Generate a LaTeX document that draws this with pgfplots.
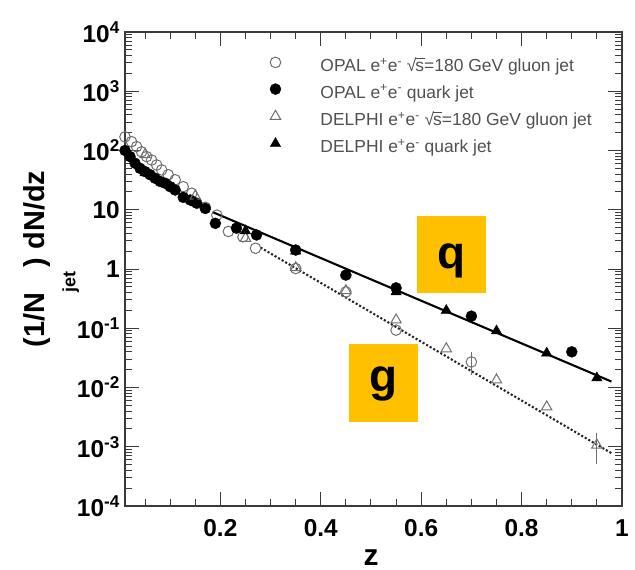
\documentclass[border=0pt]{standalone}
\usepackage{pgfplots}
\pgfplotsset{compat=1.18}
\usepackage{fontspec}
\setmainfont{Liberation Sans}

\definecolor{framegray}{HTML}{3A3A3A}
\definecolor{opengray}{HTML}{6E6E6E}
\definecolor{legtext}{HTML}{505050}
\definecolor{boxgold}{HTML}{FFC000}

% sqrt(s) with a bar over the s
\newcommand\rts{\mbox{√\kern-0.06em\rlap{\rule[0.70em]{0.52em}{0.06em}}s}}
\newcommand\epem{e\textsuperscript{+}e\textsuperscript{-}}

\begin{document}
\begin{tikzpicture}
\useasboundingbox (-125bp,-64bp) rectangle (510bp,506bp);
\begin{axis}[
  at={(0,0)}, anchor=south west,
  scale only axis, width=497bp, height=474bp,
  ymode=log,
  xmin=0.01, xmax=1, ymin=1e-4, ymax=1e4,
  axis line style={framegray, line width=1.3pt},
  xtick={0.2,0.4,0.6,0.8,1},
  xticklabels={0.2,0.4,0.6,0.8,1},
  minor xtick={0.05,0.1,0.15,0.25,0.3,0.35,0.45,0.5,0.55,0.65,0.7,0.75,0.85,0.9,0.95},
  ytick={1e-4,1e-3,1e-2,1e-1,1,10,100,1000,10000},
  yticklabels={10\textsuperscript{-4},10\textsuperscript{-3},10\textsuperscript{-2},10\textsuperscript{-1},1,10,10\textsuperscript{2},10\textsuperscript{3},10\textsuperscript{4}},
  minor ytick={2e-4,3e-4,4e-4,5e-4,6e-4,7e-4,8e-4,9e-4,
               2e-3,3e-3,4e-3,5e-3,6e-3,7e-3,8e-3,9e-3,
               2e-2,3e-2,4e-2,5e-2,6e-2,7e-2,8e-2,9e-2,
               0.2,0.3,0.4,0.5,0.6,0.7,0.8,0.9,
               2,3,4,5,6,7,8,9,
               20,30,40,50,60,70,80,90,
               200,300,400,500,600,700,800,900,
               2000,3000,4000,5000,6000,7000,8000,9000},
  tick align=inside,
  major tick length=14bp, minor tick length=7bp,
  every tick/.style={framegray, line width=1pt},
  tick label style={font=\fontsize{24.5}{24.5}\selectfont\bfseries, text=black},
  yticklabel style={inner sep=5bp},
  xticklabel style={yshift=-10bp},
  xlabel={z},
  xlabel style={at={(axis description cs:0.495,-0.1245)}, anchor=base,
    font=\fontsize{30}{30}\selectfont\bfseries},
  ylabel={(1/N\raisebox{-1.05em}{\fontsize{18}{18}\selectfont jet}\,) dN/dz},
  ylabel style={at={(axis description cs:-0.161,0.521)}, anchor=base,
    font=\fontsize{29}{29}\selectfont\bfseries},
  legend cell align=left,
  legend style={at={(axis description cs:0.2887,0.947)}, anchor=north west,
    draw=none, fill=none, inner sep=0pt, outer sep=0pt,
    row sep=8.2bp, column sep=0pt,
    font=\fontsize{17.5}{18}\selectfont, text=legtext,
    nodes={inner sep=0pt, text height=12bp, text depth=4bp}},
  legend image code/.code={
    \path[draw=none, fill=none] (-7bp,0bp) rectangle (45bp,1bp);
    \draw[#1] plot coordinates {(0bp,5bp)};
  },
]

% exponential fits: quark (solid) and gluon (dotted)
\addplot[black, line width=2.1pt, forget plot] coordinates {(0.185,9.1) (0.979,0.0126)};
\addplot[black!85, line width=2.1pt, dotted, forget plot] coordinates {(0.28,2.3) (0.979,7.8e-4)};

% statistical errors on the two high-z gluon points
\addplot[opengray, line width=0.9pt, forget plot] coordinates {(0.70,0.0165) (0.70,0.039)};
\addplot[opengray, line width=0.9pt, forget plot] coordinates {(0.95,0.00052) (0.95,0.0017)};

\addplot[only marks, mark=o, mark size=5.3bp, opengray, line width=1pt] coordinates {
  (0.010,170) (0.023,141) (0.033,116) (0.043,95) (0.053,79) (0.063,69)
  (0.073,57) (0.083,47) (0.096,39) (0.110,32) (0.126,24.5) (0.143,19)
  (0.170,11) (0.193,8.1) (0.216,4.3) (0.245,3.5) (0.270,2.24) (0.350,1.02)
  (0.450,0.41) (0.550,0.093) (0.700,0.027)};
\addlegendentry{OPAL \epem\ \rts=180 GeV gluon jet}

\addplot[only marks, mark=*, mark size=5.5bp, black] coordinates {
  (0.01,100) (0.02,79) (0.03,61) (0.04,50) (0.05,44) (0.06,39) (0.07,34)
  (0.08,30) (0.09,28) (0.10,24.5) (0.11,21.5) (0.126,16.2) (0.14,14.6)
  (0.153,12.9) (0.17,10.5) (0.19,5.9) (0.232,4.9) (0.272,3.75) (0.35,2.09)
  (0.45,0.79) (0.55,0.48) (0.70,0.16) (0.90,0.040)};
\addlegendentry{OPAL \epem\ quark jet}

\addplot[only marks, mark=triangle, mark size=6bp, opengray, line width=1pt] coordinates {
  (0.05,85) (0.15,17) (0.25,3.3) (0.35,1.05) (0.45,0.43) (0.55,0.138)
  (0.65,0.045) (0.75,0.0134) (0.85,0.0047) (0.95,0.00107)};
\addlegendentry{DELPHI \epem\ \rts=180 GeV gluon jet}

\addplot[only marks, mark=triangle*, mark size=6bp, black] coordinates {
  (0.05,42) (0.15,13) (0.25,4.4) (0.35,2.0) (0.45,0.82) (0.55,0.41)
  (0.65,0.20) (0.75,0.090) (0.85,0.038) (0.95,0.0145)};
\addlegendentry{DELPHI \epem\ quark jet}

\end{axis}

% q / g tags
\node[fill=boxgold, minimum width=69bp, minimum height=77bp, inner sep=0pt] at (326.5bp,251.5bp) {};
\node[anchor=base, font=\fontsize{46}{46}\selectfont\bfseries, inner sep=0pt] at (326.5bp,237bp) {q};
\node[fill=boxgold, minimum width=69bp, minimum height=78bp, inner sep=0pt] at (258.5bp,123bp) {};
\node[anchor=base, font=\fontsize{46}{46}\selectfont\bfseries, inner sep=0pt] at (258.5bp,114bp) {g};
\end{tikzpicture}
\end{document}
